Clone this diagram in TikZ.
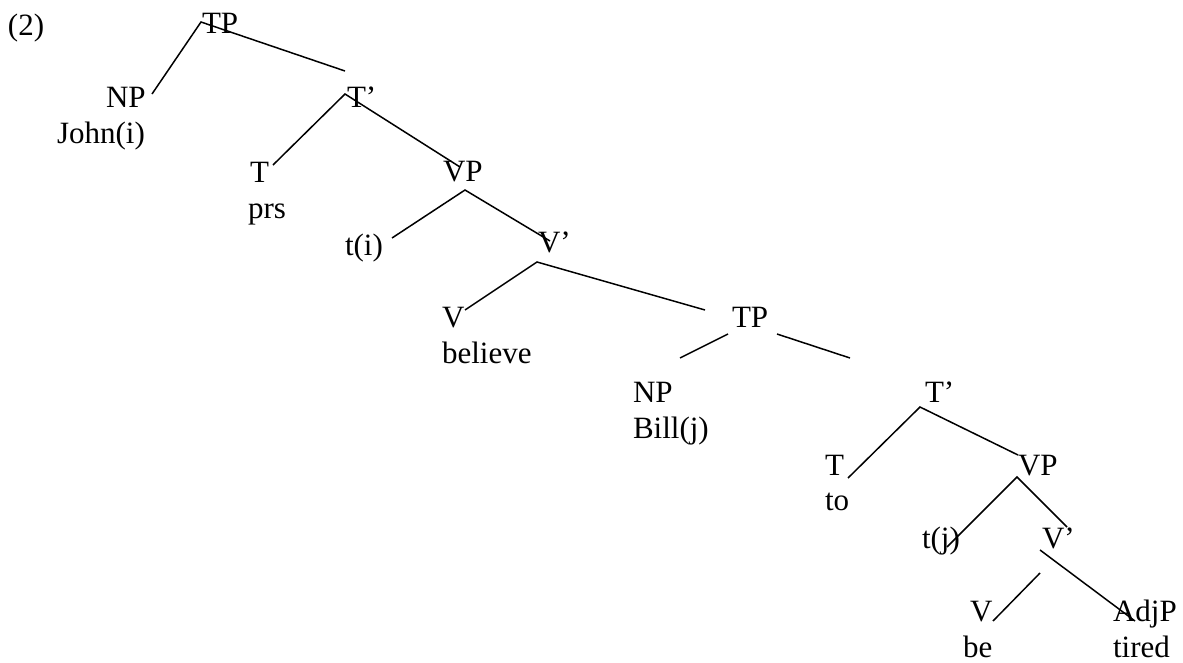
\documentclass[tikz,border=0pt]{standalone}
\usepackage{fontspec}
\setmainfont{Liberation Serif}
\begin{document}
\begin{tikzpicture}[x=1pt,y=-1pt,
  lab/.style={anchor=base west,inner sep=0pt,outer sep=0pt,font=\fontsize{31}{37}\selectfont},
  edge/.style={line width=1.5pt,black}]
\useasboundingbox (0,0) rectangle (1183,662);
% labels
\node[lab] (ex) at (8,35) {(2)};
\node[lab] (tp1) at (202,33) {TP};
\node[lab] (np1) at (106,107) {NP};
\node[lab] (john) at (57,143) {John(i)};
\node[lab] (tb1) at (347,107) {T’};
\node[lab] (t1) at (250,182) {T};
\node[lab] (prs) at (248,218) {prs};
\node[lab] (vp1) at (443,181) {VP};
\node[lab] (ti) at (345,255) {t(i)};
\node[lab] (vb1) at (538,252) {V’};
\node[lab] (v1) at (442,327) {V};
\node[lab] (believe) at (442,363) {believe};
\node[lab] (tp2) at (732,327) {TP};
\node[lab] (np2) at (633,402) {NP};
\node[lab] (bill) at (633,438) {Bill(j)};
\node[lab] (tb2) at (925,402) {T’};
\node[lab] (t2) at (825,475) {T};
\node[lab] (to) at (825,510) {to};
\node[lab] (vp2) at (1018,475) {VP};
\node[lab] (tj) at (922,548) {t(j)};
\node[lab] (vb2) at (1042,548) {V’};
\node[lab] (v2) at (970,621) {V};
\node[lab] (adjp) at (1113,621) {AdjP};
\node[lab] (be) at (963,657) {be};
\node[lab] (tired) at (1113,657) {tired};
% line end points
\coordinate (a0) at (201,22); \coordinate (a1) at (152,94); \coordinate (a2) at (345,71);
\coordinate (b0) at (345,94); \coordinate (b1) at (273,165); \coordinate (b2) at (460,167);
\coordinate (c0) at (465,190); \coordinate (c1) at (392,238); \coordinate (c2) at (550,241);
\coordinate (d0) at (537,262); \coordinate (d1) at (465,310); \coordinate (d2) at (705,310);
\coordinate (e0) at (728,334); \coordinate (e1) at (680,358);
\coordinate (e2) at (777,334); \coordinate (e3) at (850,358);
\coordinate (f0) at (920,407); \coordinate (f1) at (848,478); \coordinate (f2) at (1018,455);
\coordinate (g0) at (1017,477); \coordinate (g1) at (947,547); \coordinate (g2) at (1067,527);
\coordinate (h0) at (1040,573); \coordinate (h1) at (993,621);
\coordinate (h2) at (1040,550); \coordinate (h3) at (1135,621);
% connectors
\draw[edge] (a1) -- (a0) -- (a2);
\draw[edge] (b1) -- (b0) -- (b2);
\draw[edge] (c1) -- (c0) -- (c2);
\draw[edge] (d1) -- (d0) -- (d2);
\draw[edge] (e0) -- (e1);
\draw[edge] (e2) -- (e3);
\draw[edge] (f1) -- (f0) -- (f2);
\draw[edge] (g1) -- (g0) -- (g2);
\draw[edge] (h0) -- (h1);
\draw[edge] (h2) -- (h3);
\end{tikzpicture}
\end{document}
